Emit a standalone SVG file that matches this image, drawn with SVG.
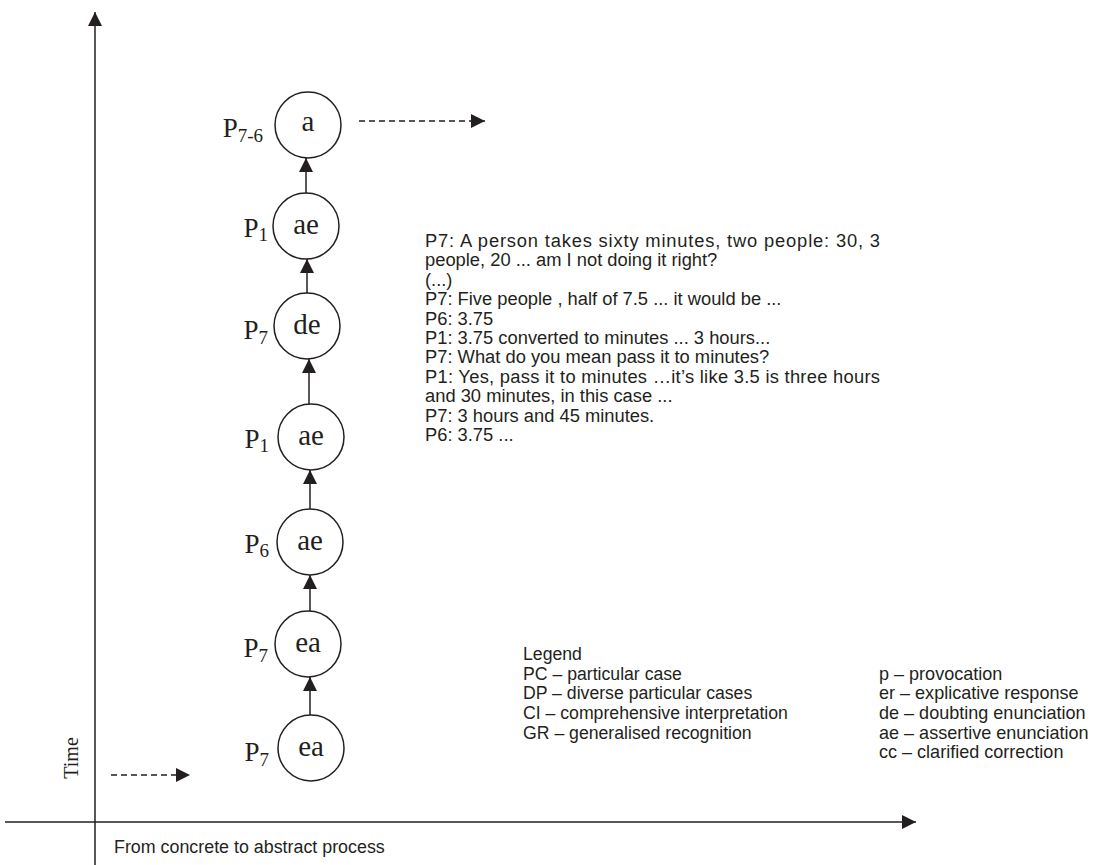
<svg xmlns="http://www.w3.org/2000/svg" width="1095" height="865" viewBox="0 0 1095 865">
<style>
.ax{stroke:#231f20;stroke-width:1.5;fill:none}
.cn{stroke:#231f20;stroke-width:1.5;fill:none}
.dash{stroke:#231f20;stroke-width:1.5;fill:none;stroke-dasharray:6 4}
.node circle{fill:#fff;stroke:#231f20;stroke-width:1.5}
.nt{font-family:"Liberation Serif","Times New Roman",serif;font-size:29px;fill:#231f20;text-anchor:middle}
.pl{font-family:"Liberation Serif","Times New Roman",serif;font-size:27px;fill:#231f20;text-anchor:end}
.sub{font-size:19px}
.tx{font-family:"Liberation Sans",Arial,sans-serif;font-size:19px;fill:#231f20}
.tm{font-family:"Liberation Serif","Times New Roman",serif;font-size:20px;fill:#231f20}
</style>
<defs>
<marker id="ah" viewBox="0 0 14 14" refX="14" refY="7" markerWidth="14" markerHeight="14" orient="auto" markerUnits="userSpaceOnUse">
<path d="M0,0 L14,7 L0,14 z" fill="#231f20"/>
</marker>
<marker id="ahs" viewBox="0 0 14 14" refX="14" refY="7" markerWidth="14" markerHeight="14" orient="auto" markerUnits="userSpaceOnUse">
<path d="M0,0 L14,7 L0,14 z" fill="#231f20"/>
</marker>
</defs>

<g id="axes">
<line class="ax" x1="95" y1="865" x2="95" y2="12" marker-end="url(#ah)"/>
<line class="ax" x1="5" y1="822" x2="916" y2="822" marker-end="url(#ah)"/>
<text class="tm" transform="translate(78,758) rotate(-90)" text-anchor="middle">Time</text>
<g transform="translate(114,0) scale(0.94,1)"><text class="tx" x="0" y="853">From concrete to abstract process</text></g>
</g>

<g id="connectors">
<line class="dash" x1="111" y1="775" x2="190" y2="775" marker-end="url(#ahs)"/>
<line class="dash" x1="359" y1="121" x2="485" y2="121" marker-end="url(#ahs)"/>
<line class="cn" x1="310" y1="715" x2="310" y2="677" marker-end="url(#ahs)"/>
<line class="cn" x1="310" y1="611" x2="310" y2="575" marker-end="url(#ahs)"/>
<line class="cn" x1="310" y1="509" x2="310" y2="470" marker-end="url(#ahs)"/>
<line class="cn" x1="309" y1="404" x2="309" y2="359" marker-end="url(#ahs)"/>
<line class="cn" x1="307" y1="293" x2="307" y2="259" marker-end="url(#ahs)"/>
<line class="cn" x1="306" y1="193" x2="306" y2="158" marker-end="url(#ahs)"/>
</g>

<g id="n-a" class="node">
<circle cx="308" cy="125" r="33"/>
<text class="nt" x="308" y="131">a</text>
<text class="pl" x="263" y="137">P<tspan class="sub" dy="5">7-6</tspan></text>
</g>
<g id="n-ae1" class="node">
<circle cx="306" cy="226" r="33"/>
<text class="nt" x="306" y="234">ae</text>
<text class="pl" x="268" y="237">P<tspan class="sub" dy="4">1</tspan></text>
</g>
<g id="n-de" class="node">
<circle cx="307" cy="326" r="33"/>
<text class="nt" x="307" y="334">de</text>
<text class="pl" x="268" y="339">P<tspan class="sub" dy="5">7</tspan></text>
</g>
<g id="n-ae2" class="node">
<circle cx="311" cy="437" r="33"/>
<text class="nt" x="311" y="445">ae</text>
<text class="pl" x="269" y="448">P<tspan class="sub" dy="4">1</tspan></text>
</g>
<g id="n-ae3" class="node">
<circle cx="310" cy="542" r="33"/>
<text class="nt" x="310" y="550">ae</text>
<text class="pl" x="269" y="553">P<tspan class="sub" dy="4">6</tspan></text>
</g>
<g id="n-ea1" class="node">
<circle cx="308" cy="644" r="33"/>
<text class="nt" x="308" y="652">ea</text>
<text class="pl" x="268" y="657">P<tspan class="sub" dy="5">7</tspan></text>
</g>
<g id="n-ea2" class="node">
<circle cx="311" cy="748" r="33"/>
<text class="nt" x="311" y="756">ea</text>
<text class="pl" x="269" y="761">P<tspan class="sub" dy="5">7</tspan></text>
</g>

<g id="transcript" class="tx" transform="translate(425,0) scale(0.965,1)">
<text x="0" y="247" textLength="471.5" lengthAdjust="spacing">P7: A person takes sixty minutes, two people: 30, 3</text>
<text x="0" y="266.4">people, 20 ... am I not doing it right?</text>
<text x="0" y="285.8">(...)</text>
<text x="0" y="305.2">P7: Five people , half of 7.5 ... it would be ...</text>
<text x="0" y="324.6">P6: 3.75</text>
<text x="0" y="344">P1: 3.75 converted to minutes ... 3 hours...</text>
<text x="0" y="363.4">P7: What do you mean pass it to minutes?</text>
<text x="0" y="382.8" textLength="471.5" lengthAdjust="spacing">P1: Yes, pass it to minutes …it’s like 3.5 is three hours</text>
<text x="0" y="402.2">and 30 minutes, in this case ...</text>
<text x="0" y="421.6">P7: 3 hours and 45 minutes.</text>
<text x="0" y="441">P6: 3.75 ...</text>
</g>

<g id="legend" class="tx">
<g transform="translate(523,0) scale(0.93,1)">
<text x="0" y="660">Legend</text>
<text x="0" y="679.7">PC – particular case</text>
<text x="0" y="699.4">DP – diverse particular cases</text>
<text x="0" y="719.1">CI – comprehensive interpretation</text>
<text x="0" y="738.8">GR – generalised recognition</text>
</g>
<g transform="translate(879,0) scale(0.95,1)">
<text x="0" y="679.7">p – provocation</text>
<text x="0" y="699.4">er – explicative response</text>
<text x="0" y="719.1">de – doubting enunciation</text>
<text x="0" y="738.8">ae – assertive enunciation</text>
<text x="0" y="758.5">cc – clarified correction</text>
</g>
</g>
</svg>
